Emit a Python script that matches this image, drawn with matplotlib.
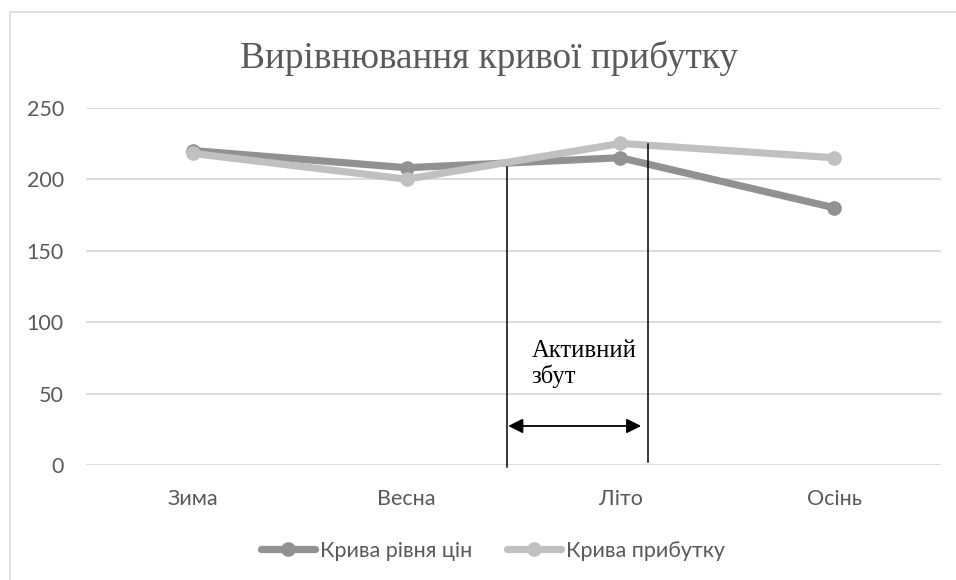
import matplotlib.pyplot as plt
from matplotlib.patches import Rectangle

seasons = ["Зима", "Весна", "Літо", "Осінь"]
price_level = [220, 208, 215, 180]
profit = [218, 200, 225, 215]
y_ticks = [0, 50, 100, 150, 200, 250]

label_price = "Крива рівня цін"
label_profit = "Крива прибутку"
title = "Вирівнювання кривої прибутку"
note = "Активний\nзбут"

text_grey = "#595959"
grid_grey = "#D9D9D9"

fig = plt.figure(figsize=(9.56, 5.8), dpi=100)
ax = fig.add_axes([0.090, 0.1983, 0.8944, 0.616])

# outer chart frame
fig.patches.append(Rectangle((10 / 956, -0.1), 1.2, 1.1 - 12 / 580,
                             transform=fig.transFigure, fill=False,
                             edgecolor=grid_grey, linewidth=1.2))

x = range(len(seasons))
ax.plot(x, price_level, color="#919191", linewidth=5.2, marker="o",
        markersize=9.5, solid_capstyle="round", label=label_price, zorder=3)
ax.plot(x, profit, color="#C0C0C0", linewidth=5.2, marker="o",
        markersize=9.5, solid_capstyle="round", label=label_profit, zorder=4)

ax.set_xlim(-0.5, len(seasons) - 0.5)
ax.set_ylim(0, 250)
ax.set_xticks(list(x))
ax.set_xticklabels(seasons)
ax.set_yticks(y_ticks)
ax.grid(axis="y", color=grid_grey, linewidth=1.3)
ax.set_axisbelow(True)
for s in ax.spines.values():
    s.set_visible(False)
ax.tick_params(length=0, labelsize=15.5, labelcolor=text_grey)
ax.tick_params(axis="y", pad=16)
ax.tick_params(axis="x", pad=17)
for lbl in ax.get_xticklabels() + ax.get_yticklabels():
    lbl.set_family("Lato")

# "active sales" bracket
ax.plot([1.468, 1.468], [-1.2, 208.7], color="black", linewidth=1.1,
        clip_on=False, zorder=5)
ax.plot([2.131, 2.131], [2.3, 224.6], color="black", linewidth=1.1,
        clip_on=False, zorder=5)
ax.annotate("", xy=(1.475, 27.3), xytext=(2.097, 27.3),
            arrowprops=dict(arrowstyle="<|-|>", color="black", lw=1.3,
                            mutation_scale=22, shrinkA=0, shrinkB=0))
ax.text(1.585, 57.5, note, family="Liberation Serif", fontsize=17.7,
        color="black", va="baseline", ha="left", linespacing=1.1)

fig.text(0.511, 0.90, title, family="Liberation Serif", fontsize=26.8,
         color=text_grey, ha="center", va="center")

leg = fig.legend(loc="center", bbox_to_anchor=(0.5157, 0.05), ncol=2,
                 frameon=False, handlelength=2.5, numpoints=1,
                 columnspacing=1.65, handletextpad=0.22,
                 prop={"family": "Lato", "size": 15.5})
for t in leg.get_texts():
    t.set_color(text_grey)

fig.savefig("out.png", dpi=100)
